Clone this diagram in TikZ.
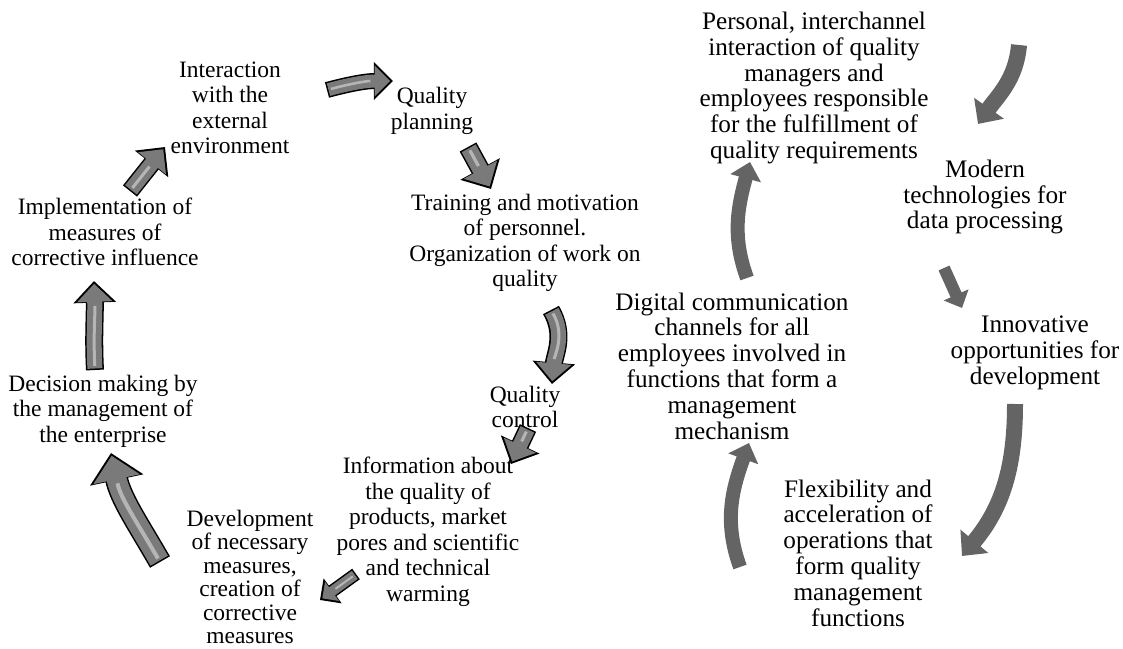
\documentclass[tikz,border=0pt]{standalone}
\usepackage{fontspec}
\setmainfont{Liberation Serif}
\usetikzlibrary{arrows.meta}

\definecolor{shadegray}{HTML}{7A7A7A}
\definecolor{flatgray}{HTML}{646464}

\newcommand{\shadearrow}[2]{%
  \draw[line width=#1pt+3pt, black, -{Triangle[length=0pt 1.2, width=0pt 2.3]}] #2;
  \draw[line width=#1pt, shadegray, shorten <=1.5pt, shorten >=2.8pt, -{Triangle[length=0pt 1.2, width=0pt 2.3]}] #2;
  \draw[line width=0.2*#1pt, white, opacity=0.45, shorten <=4pt, shorten >=1.2*#1pt+7pt] #2;
}

\begin{document}
\begin{tikzpicture}[x=1pt, y=1pt,
    lbl/.style={align=center, inner sep=0pt, font=\fontsize{23.5}{25.5}\selectfont},
    rlbl/.style={align=center, inner sep=0pt, font=\fontsize{25.2}{25.8}\selectfont},
    flat/.style={line width=#1, flatgray, -{Triangle[length=0pt 1.2, width=0pt 2.2]}}]
\useasboundingbox (0,0) rectangle (1123,648);

\node[lbl] (ext) at (230,540) {Interaction\\with the\\external\\environment};
\node[lbl] (plan) at (432,537) {Quality\\planning};
\node[lbl] (train) at (525,405) {Training and motivation\\of personnel.\\Organization of work on\\quality};
\node[lbl] (qctrl) at (525,241) {Quality\\control};
\node[lbl] (info) at (428,116) {Information about\\the quality of\\products, market\\pores and scientific\\and technical\\warming};
\node[lbl, font=\fontsize{23.5}{23.5}\selectfont] (dev) at (250,71) {Development\\of necessary\\measures,\\creation of\\corrective\\measures};
\node[lbl] (dec) at (103,237) {Decision making by\\the management of\\the enterprise};
\node[lbl] (impl) at (105,416) {Implementation of\\measures of\\corrective influence};

\node[rlbl] (pers) at (814,560) {Personal, interchannel\\interaction of quality\\managers and\\employees responsible\\for the fulfillment of\\quality requirements};
\node[rlbl] (modern) at (985,451) {Modern\\technologies for\\data processing};
\node[rlbl] (innov) at (1035,295) {Innovative\\opportunities for\\development};
\node[rlbl] (flex) at (858,95) {Flexibility and\\acceleration of\\operations that\\form quality\\management\\functions};
\node[rlbl] (digital) at (732,282) {Digital communication\\channels for all\\employees involved in\\functions that form a\\management\\mechanism};

\coordinate (a1s) at (327,558); \coordinate (a1e) at (393,567);
\coordinate (a2s) at (468,501); \coordinate (a2e) at (491,459);
\coordinate (a3s) at (551,338); \coordinate (a3e) at (552,264);
\coordinate (a4s) at (528,220); \coordinate (a4e) at (511,184);
\coordinate (a5s) at (356,74);  \coordinate (a5e) at (320,48);
\coordinate (a6s) at (160,86);  \coordinate (a6e) at (111,195);
\coordinate (a7s) at (95,278);  \coordinate (a7e) at (94,367);
\coordinate (a8s) at (130,457); \coordinate (a8e) at (165,501);

\shadearrow{13}{(a1s) to[out=15, in=180] (a1e)}
\shadearrow{16}{(a2s) -- (a2e)}
\shadearrow{15}{(a3s) to[out=-60, in=85] (a3e)}
\shadearrow{15}{(a4s) -- (a4e)}
\shadearrow{10}{(a5s) -- (a5e)}
\shadearrow{20}{(a6s) to[out=120, in=-78] (a6e)}
\shadearrow{15}{(a7s) to[out=93, in=-88] (a7e)}
\shadearrow{15}{(a8s) -- (a8e)}

\coordinate (b1s) at (1019,603); \coordinate (b1e) at (978,524);
\coordinate (b2s) at (944,380);  \coordinate (b2e) at (962,340);
\coordinate (b3s) at (1015,244); \coordinate (b3e) at (962,92);
\coordinate (b4s) at (740,81);   \coordinate (b4e) at (749,205);
\coordinate (b5s) at (747,370);  \coordinate (b5e) at (750,486);

\draw[flat=16pt] (b1s) to[out=-95, in=55] (b1e);
\draw[flat=12pt] (b2s) -- (b2e);
\draw[flat=16pt] (b3s) to[out=-90, in=50] (b3e);
\draw[flat=14pt] (b4s) to[out=110, in=-110] (b4e);
\draw[flat=14pt] (b5s) to[out=110, in=-105] (b5e);
\end{tikzpicture}
\end{document}
